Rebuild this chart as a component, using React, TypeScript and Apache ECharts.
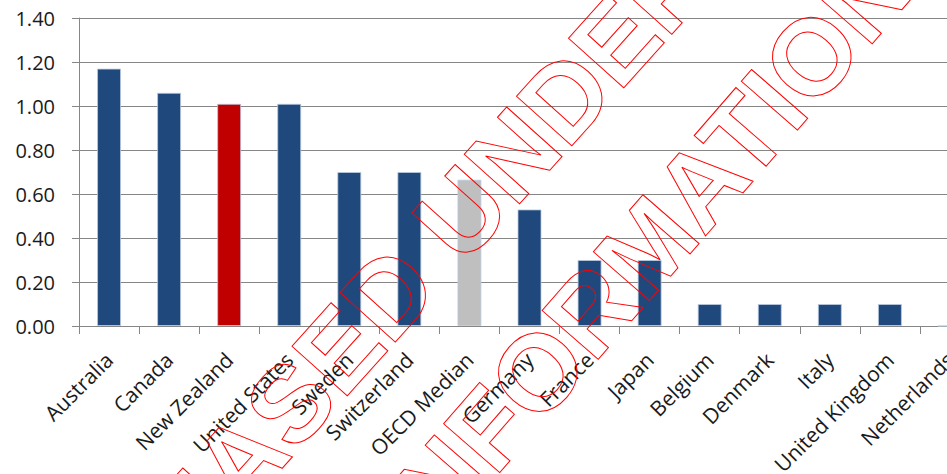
import React, { useEffect, useRef } from "react";
import * as echarts from "echarts";

const categories = [
  "Australia",
  "Canada",
  "New Zealand",
  "United States",
  "Sweden",
  "Switzerland",
  "OECD Median",
  "Germany",
  "France",
  "Japan",
  "Belgium",
  "Denmark",
  "Italy",
  "United Kingdom",
  "Netherlands",
];
const values = [1.17, 1.06, 1.01, 1.01, 0.7, 0.7, 0.665, 0.53, 0.3, 0.3, 0.1, 0.1, 0.1, 0.1, 0];
const highlightNZ = "New Zealand";
const medianName = "OECD Median";
const watermarkLines = ["RELEASED UNDER THE", "OFFICIAL INFORMATION ACT"];

const BLUE = "#1F497D";
const RED = "#C00000";
const GREY = "#BFBFBF";

export default function App() {
  const ref = useRef<HTMLDivElement>(null);
  useEffect(() => {
    if (!ref.current) return;
    const chart = echarts.init(ref.current, null, { renderer: "svg" });
    const deg = (d: number) => (d * Math.PI) / 180;
    const data = categories.map((c, i) => ({
      value: values[i],
      itemStyle: {
        color: c === highlightNZ ? RED : c === medianName ? GREY : BLUE,
      },
    }));
    const wmFont = 'bold 108px "Liberation Sans", Arial, sans-serif';
    const wmStyle = {
      x: 0,
      y: 0,
      font: wmFont,
      textAlign: "left",
      textVerticalAlign: "middle",
      fill: "none",
      stroke: "#ff0000",
      lineWidth: 1,
    };
    chart.setOption({
      animation: false,
      backgroundColor: "#ffffff",
      grid: {
        left: 79,
        top: 18,
        width: 901,
        height: 308,
        containLabel: false,
        outerBoundsMode: "none",
      },
      xAxis: {
        type: "category",
        data: categories,
        boundaryGap: true,
        axisLine: { show: true, lineStyle: { color: "#868686", width: 1 } },
        axisTick: { show: true, length: 8, inside: false, lineStyle: { color: "#868686" } },
        axisLabel: {
          rotate: 45,
          interval: 0,
          margin: 30,
          color: "#1a1a1a",
          fontSize: 21,
          fontFamily: '"Open Sans", sans-serif',
        },
        splitLine: { show: false },
      },
      yAxis: {
        type: "value",
        min: 0,
        max: 1.4,
        interval: 0.2,
        axisLine: { show: true, lineStyle: { color: "#868686", width: 1 } },
        axisTick: { show: true, length: 7, lineStyle: { color: "#868686" } },
        axisLabel: {
          formatter: (v: number) => v.toFixed(2),
          margin: 24,
          color: "#1a1a1a",
          fontSize: 20,
          fontFamily: '"Open Sans", sans-serif',
        },
        splitLine: { show: true, lineStyle: { color: "#868686", width: 1 } },
      },
      series: [
        {
          type: "bar",
          data,
          barWidth: 24,
          itemStyle: { borderColor: "rgba(185,201,224,0.8)", borderWidth: 1 },
        },
      ],
      graphic: [
        {
          type: "text",
          x: 22,
          y: 702,
          rotation: deg(48.1),
          z: 100,
          silent: true,
          style: { ...wmStyle, text: watermarkLines[0] },
        },
        {
          type: "text",
          x: 51,
          y: 932,
          rotation: deg(49),
          z: 100,
          silent: true,
          style: { ...wmStyle, text: watermarkLines[1] },
        },
      ],
    });
    return () => chart.dispose();
  }, []);
  return (
    <div style={{ position: "fixed", left: 0, top: 0, width: 947, height: 474, overflow: "hidden", background: "#fff" }}>
      <div ref={ref} style={{ width: 1010, height: 474 }} />
    </div>
  );
}
